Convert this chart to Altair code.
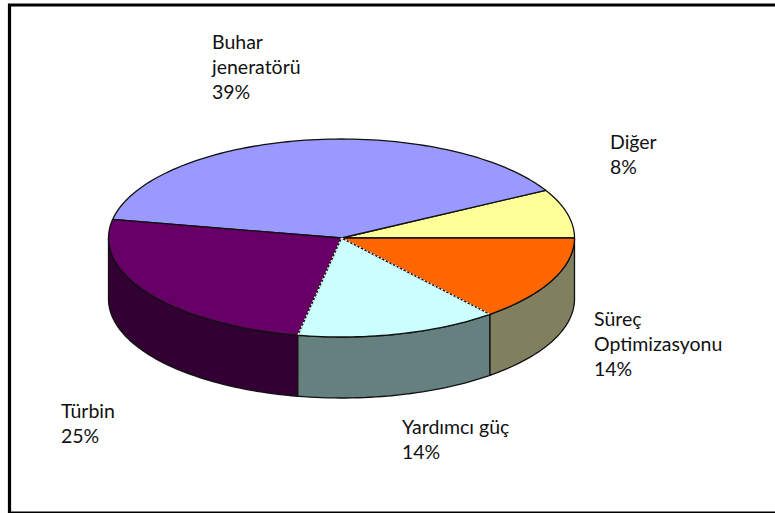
import math
import altair as alt
import pandas as pd

# Slices in drawing order, counter-clockwise from the three o'clock position
names = ["Diğer", "Buhar jeneratörü", "Türbin", "Yardımcı güç", "Süreç Optimizasyonu"]
shares = [8, 39, 25, 14, 14]
top_colors = ["#FFFF99", "#9999FF", "#660066", "#CCFFFF", "#FF6600"]
side_colors = ["#808050", "#4D4D80", "#330033", "#668080", "#808060"]

label_lines = [
    ["Buhar", "jeneratörü", "39%"],
    ["Diğer", "8%"],
    ["Süreç", "Optimizasyonu", "14%"],
    ["Türbin", "25%"],
    ["Yardımcı güç", "14%"],
]
label_left = [212, 610, 594, 61, 402]
label_top = [43, 143, 320, 412, 428]

W, H = 775, 513
CX, CY, RX, RY = 341.5, 238, 233, 99
DEPTH = 61 / RY  # wall height in units of the vertical radius

x_scale = alt.Scale(domain=[-CX / RX, (W - CX) / RX], range=[0, W], nice=False, zero=False)
y_scale = alt.Scale(domain=[(CY - H) / RY, CY / RY], range=[H, 0], nice=False, zero=False)
X = alt.X("x:Q", scale=x_scale, axis=None)
Y = alt.Y("y:Q", scale=y_scale, axis=None)


def rim(a0, a1, drop=0.0):
    n = max(2, int(abs(a1 - a0) / 1.5) + 1)
    pts = []
    for i in range(n + 1):
        a = math.radians(a0 + (a1 - a0) * i / n)
        pts.append((math.cos(a), math.sin(a) - drop))
    return pts


top_rows, side_rows = [], []
start = 0.0
for name, share in zip(names, shares):
    end = start + share * 3.6
    outline = [(0.0, 0.0)] + rim(start, end) + [(0.0, 0.0)]
    top_rows += [{"name": name, "i": i, "x": p[0], "y": p[1]} for i, p in enumerate(outline)]
    lo, hi = max(start, 180.0), min(end, 360.0)
    if lo < hi:
        wall = rim(lo, hi) + rim(hi, lo, DEPTH)
        wall.append(wall[0])
        side_rows += [{"name": name, "i": i, "x": p[0], "y": p[1]} for i, p in enumerate(wall)]
    start = end

# Dotted highlights along the two seams around the pale slice
dotted_rows = []
angle = 0.0
for k, share in enumerate(shares):
    if names[k] in ("Türbin", "Yardımcı güç"):
        a = math.radians(angle + share * 3.6)
        dotted_rows += [
            {"seam": names[k], "i": 0, "x": 0.0, "y": 0.0},
            {"seam": names[k], "i": 1, "x": math.cos(a), "y": math.sin(a)},
        ]
    angle += share * 3.6

side = (
    alt.Chart(pd.DataFrame(side_rows))
    .mark_line(stroke="#111111", strokeWidth=1.3, strokeJoin="round")
    .encode(
        x=X, y=Y, order="i:Q", detail="name:N",
        fill=alt.Fill("name:N", scale=alt.Scale(domain=names, range=side_colors), legend=None),
    )
)
top = (
    alt.Chart(pd.DataFrame(top_rows))
    .mark_line(stroke="#111111", strokeWidth=1.3, strokeJoin="round")
    .encode(
        x=X, y=Y, order="i:Q", detail="name:N",
        fill=alt.Fill("name:N", scale=alt.Scale(domain=names, range=top_colors), legend=None),
    )
)
dotted = (
    alt.Chart(pd.DataFrame(dotted_rows))
    .mark_line(stroke="#FFFFFF", strokeWidth=1.3, strokeDash=[2, 2])
    .encode(x=X, y=Y, order="i:Q", detail="seam:N")
)

layers = [side, top, dotted]

for lines, left, first in zip(label_lines, label_left, label_top):
    rows = pd.DataFrame({"text": lines, "row": range(len(lines))})
    layers.append(
        alt.Chart(rows)
        .mark_text(align="left", baseline="middle", font="Lato", fontSize=19.5, color="#111111")
        .transform_calculate(py=f"{first} + 25 * datum.row")
        .encode(x=alt.value(left), y=alt.Y("py:Q", scale=alt.Scale(domain=[0, H], range=[0, H]), axis=None), text="text:N")
    )

# Outer frame of the chart, running off the right-hand side
layers.append(
    alt.Chart(pd.DataFrame({"v": [0]}))
    .mark_rect(fill="transparent", stroke="#000000", strokeWidth=3.2)
    .encode(x=alt.value(9.5), x2=alt.value(790), y=alt.value(5), y2=alt.value(513))
)

chart = (
    alt.layer(*layers)
    .resolve_scale(fill="independent", y="independent")
    .properties(width=W, height=H, padding=0, autosize=alt.AutoSizeParams(type="none"), background="#FFFFFF")
    .configure_view(stroke=None)
)
chart.save("out.html", embed_options={"renderer": "svg", "actions": False})
